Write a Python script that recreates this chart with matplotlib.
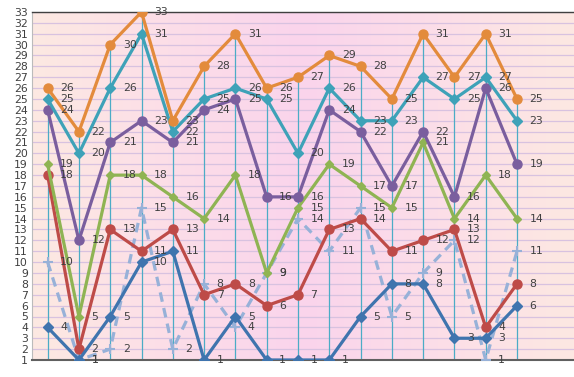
import numpy as np
import matplotlib
matplotlib.use("Agg")
import matplotlib.pyplot as plt

categories = list(range(1, 17))
orange = [26, 22, 30, 33, 23, 28, 31, 26, 27, 29, 28, 25, 31, 27, 31, 25]
teal = [25, 20, 26, 31, 22, 25, 26, 25, 20, 26, 23, 23, 27, 25, 27, 23]
purple = [24, 12, 21, 23, 21, 24, 25, 16, 16, 24, 22, 17, 22, 16, 26, 19]
green = [19, 5, 18, 18, 16, 14, 18, 9, 15, 19, 17, 15, 21, 14, 18, 14]
red = [18, 2, 13, 11, 13, 7, 8, 6, 7, 13, 14, 11, 12, 13, 4, 8]
blue = [4, 1, 5, 10, 11, 1, 5, 1, 1, 1, 5, 8, 8, 3, 3, 6]
dashed = [10, 1, 2, 15, 2, 8, 4, 9, 14, 11, 15, 5, 9, 12, 1, 11]
y_ticks = list(range(1, 34))

W, H = 574, 377
fig = plt.figure(figsize=(W / 100, H / 100), dpi=100)
ax = fig.add_axes([32 / W, (377 - 360) / H, (W - 32) / W, (360 - 12) / H])

x = np.arange(len(categories))
xmin, xmax = -0.5, 15 + (574 - 517) / 31.3
ymin, ymax = 1, 33
ax.set_xlim(xmin, xmax)
ax.set_ylim(ymin, ymax)

# background gradient
cols = np.array([
    [253, 233, 226],
    [252, 222, 232],
    [250, 212, 236],
    [252, 222, 232],
    [253, 232, 226],
]) / 255.0
n = 400
t = np.linspace(0, 1, n)
pos = np.linspace(0, 1, len(cols))
grad = np.stack([np.interp(t, pos, cols[:, c]) for c in range(3)], axis=-1)
ax.imshow(grad[np.newaxis, :, :], extent=[xmin, xmax, ymin, ymax], aspect="auto", zorder=0)

for yv in y_ticks:
    ax.axhline(yv, color="#D8C2E0", lw=0.9, zorder=1)

# drop lines from max to axis
allser = [orange, teal, purple, green, red, blue, dashed]
for i in range(len(categories)):
    mx = max(s[i] for s in allser)
    ax.plot([x[i], x[i]], [ymin, mx], color="#4BACC6", lw=0.9, zorder=2)

series = [
    (dashed, "#97B1D8", "+", 7, "--"),
    (red, "#BE4B48", "o", 6.5, "-"),
    (green, "#8FB453", "D", 4.5, "-"),
    (purple, "#7A5E9E", "o", 6.5, "-"),
    (teal, "#3EA2B8", "D", 5, "-"),
    (orange, "#E38B3C", "o", 6.5, "-"),
    (blue, "#3F74AE", "D", 5, "-"),
]
for k, (vals, col, mk, ms, ls) in enumerate(series):
    ax.plot(x, vals, color=col, lw=2.3, ls=ls, marker=mk, ms=ms,
            markeredgecolor=col, markerfacecolor=col, markeredgewidth=1.5 if mk == "+" else 1,
            dashes=(3, 2) if ls == "--" else (None, None), zorder=3 + k)
    for xi, v in zip(x, vals):
        ax.annotate(str(v), (xi, v), xytext=(9, 0), textcoords="offset points",
                    va="center", ha="left", fontsize=7.8, color="#404040", zorder=20)

ax.set_yticks(y_ticks)
ax.set_yticklabels([str(v) for v in y_ticks], fontsize=7.8, color="#404040")
ax.set_xticks([])
ax.tick_params(axis="y", length=0, pad=3)
ax.spines["right"].set_visible(False)
ax.spines["top"].set_color("#404040")
ax.spines["top"].set_linewidth(1.0)
ax.spines["bottom"].set_color("#606060")
ax.spines["bottom"].set_linewidth(1.5)
ax.spines["left"].set_color("#BBBBBB")
ax.spines["left"].set_linewidth(0.8)

fig.savefig("out.png", dpi=100)
